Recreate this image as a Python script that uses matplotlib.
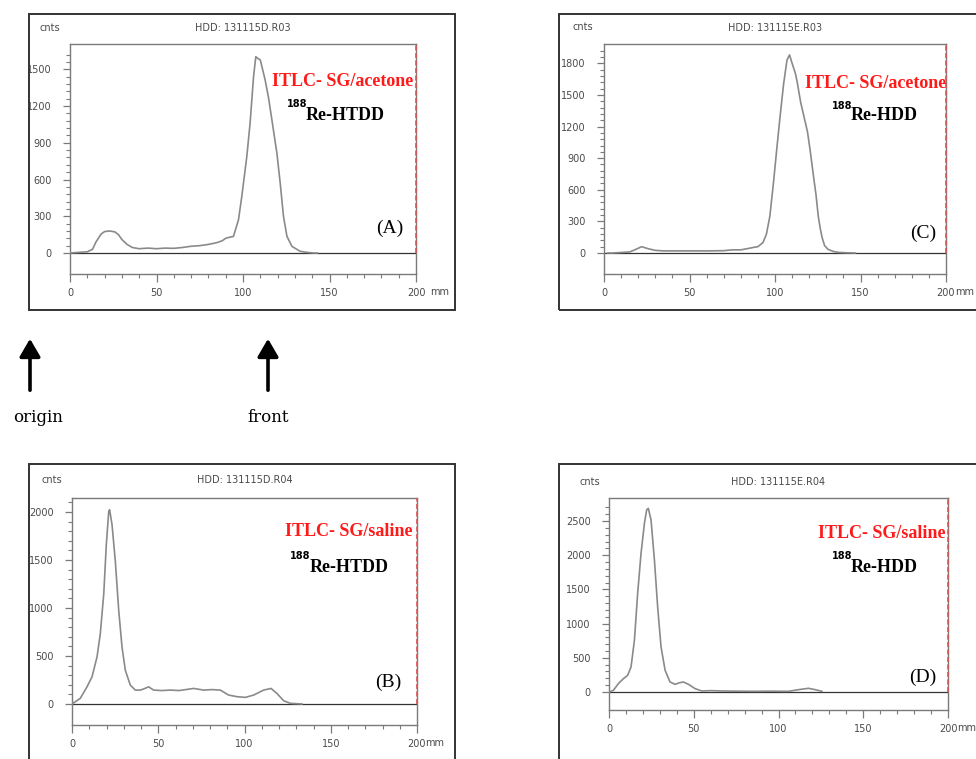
import matplotlib
matplotlib.use("Agg")
import matplotlib.pyplot as plt
from matplotlib.patches import Rectangle, FancyArrowPatch
from matplotlib.ticker import FixedLocator

W, H = 976, 759

# ---------------- data ----------------
A_x = [0, 5, 10, 13, 15, 18, 20, 23, 26, 28, 30, 33, 36, 40, 45, 50, 55, 60, 65, 70, 75, 80, 85, 88, 90, 92,
       94.5, 97.4, 99.3, 102.2, 104.1, 106.1, 107.4, 108.5, 110, 112.8, 114.8, 116.7, 119.6, 121.5, 123.4,
       125.4, 128.3, 133, 137, 140.8, 143]
A_y = [0, 5, 10, 30, 90, 155, 175, 180, 172, 150, 110, 70, 45, 35, 40, 35, 40, 38, 45, 55, 60, 70, 85, 100, 120, 128,
       136, 272, 462, 788, 1060, 1440, 1603, 1590, 1576, 1413, 1264, 1087, 815, 571, 299,
       136, 54, 14, 5, 0, 0]

B_x = [0, 4.8, 8.7, 11.6, 14.5, 16.4, 18.4, 19.9, 21.3, 21.8, 23.2, 25.1, 27.1, 29, 30.9, 33.8, 36.7, 39.6, 42,
       44.4, 47.3, 52, 57, 62, 66.7, 70.5, 76.3, 81, 86, 90.8, 95.7, 100.5, 105.3, 111.1, 115.4, 118.8, 122.7,
       126.6, 133.3]
B_y = [0, 59, 179, 283, 490, 731, 1145, 1662, 2007, 2024, 1869, 1490, 972, 593, 352, 197, 145, 145, 160,
       179, 145, 140, 145, 140, 152, 162, 145, 150, 145, 93, 76, 69, 93, 145, 162, 110, 34,
       7, 0]

C_x = [2, 5, 10, 15, 18, 20, 22, 24, 26, 30, 35, 40, 50, 60, 70, 75, 80, 85, 88, 90, 93, 95, 97, 99, 101, 103,
       105, 107, 108.5, 110, 112, 113, 115, 117, 119, 120.5, 122.5, 124, 125.3, 126.5, 127.5, 129, 131, 134,
       137, 142, 147]
C_y = [0, 0, 5, 10, 30, 45, 60, 50, 40, 25, 20, 20, 20, 20, 22, 30, 30, 45, 55, 60, 100, 180, 350, 650, 980, 1300,
       1600, 1830, 1880, 1800, 1700, 1620, 1430, 1290, 1150, 980, 730, 550, 350, 230, 150, 70, 35, 15,
       6, 2, 0]

D_x = [0, 2.6, 5.5, 8.5, 11, 13, 15, 16.9, 18.9, 20.9, 22.2, 23.2, 24.8, 26.8, 28.7, 30.7, 33.1, 36, 39, 41.5,
       43.9, 46.9, 50.8, 54.7, 60, 66.5, 75, 86.2, 95, 106, 111.8, 117.7, 121.7, 125.6]
D_y = [0, 24, 122, 195, 244, 366, 757, 1440, 2026, 2466, 2661, 2685, 2515, 1929, 1245, 659, 317, 146, 112, 135,
       146, 112, 49, 15, 20, 15, 12, 10, 12, 10, 34, 54, 34, 10]

titles = ["HDD: 131115D.R03", "HDD: 131115E.R03", "HDD: 131115D.R04", "HDD: 131115E.R04"]
solvents = ["ITLC- SG/acetone", "ITLC- SG/acetone", "ITLC- SG/saline", "ITLC- SG/saline"]
compounds = ["Re-HTDD", "Re-HDD", "Re-HTDD", "Re-HDD"]
panel_tags = ["(A)", "(C)", "(B)", "(D)"]
yticks_major = [[0, 300, 600, 900, 1200, 1500],
                [0, 300, 600, 900, 1200, 1500, 1800],
                [0, 500, 1000, 1500, 2000],
                [0, 500, 1000, 1500, 2000, 2500]]
xticks_major = [0, 50, 100, 150, 200]

# ---------------- helpers ----------------
fig = plt.figure(figsize=(W / 100, H / 100), dpi=100)
fig.patch.set_facecolor("white")


def fx(x):
    return x / W


def fy(y):
    return 1 - y / H


def rect(l, t, r, b):
    return [l / W, 1 - b / H, (r - l) / W, (b - t) / H]


NARROW = ["Liberation Sans Narrow", "DejaVu Sans"]
SERIF = ["Liberation Serif", "DejaVu Serif"]
GRAY = "#7a7a7a"
TXT = "#4a4a4a"

# frames (pixel boxes: l, t, r, b)
frames = [(29, 14, 455, 310), (559, 14, 990, 310), (29, 464, 455, 775), (559, 464, 990, 775)]
for (l, t, r, b) in frames:
    fig.add_artist(Rectangle((fx(l), fy(b)), (r - l) / W, (b - t) / H, transform=fig.transFigure,
                             fill=False, edgecolor="#333333", linewidth=1.4))

# axes geometry: (left, top, right, bottom, zero_px, ref_val, ref_px)
geo = [(70, 44, 416, 274, 253, 1500, 69.3),
       (604, 44, 946, 274, 253, 1800, 63.3),
       (72, 498, 417, 725, 704, 2000, 512),
       (609, 498, 948, 710, 692, 2500, 521)]
minor_step = [60, 60, 100, 100]
minor_top = [1620, 1920, 2100, 2700]
datasets = [(A_x, A_y), (C_x, C_y), (B_x, B_y), (D_x, D_y)]

# text positions (pixels)
cnts_pos = [(50, 28), (583, 27), (52, 480), (590, 482)]
title_y = [28, 28, 480, 482]
red_pos = [(272, 82), (805, 83), (285, 532), (818, 533)]
sup_pos = [(287, 104), (832, 106), (290, 556), (832, 556)]
comp_pos = [(306, 115), (851, 115), (310, 568), (851, 567)]
tag_pos = [(390, 228), (923, 233), (388, 682), (923, 677)]
mm_pos = [(440, 292), (965, 292), (435, 743), (967, 728)]

for i in range(4):
    l, t, r, b, z, rv, rp = geo[i]
    scale = (z - rp) / rv
    ymin = -(b - z) / scale
    ymax = (z - t) / scale
    ax = fig.add_axes(rect(l, t, r, b))
    ax.set_xlim(0, 200)
    ax.set_ylim(ymin, ymax)
    xs, ys = datasets[i]
    ax.plot(xs, ys, color="#8a8a8a", linewidth=1.2, zorder=3)
    ax.plot([0, 200], [0, 0], color="#333333", linewidth=0.9, zorder=2)
    ax.plot([200, 200], [0, ymax], color="#e05555", linewidth=1.2, linestyle=(0, (3, 1.5)),
            zorder=4, clip_on=False)
    for s in ax.spines.values():
        s.set_color(GRAY)
        s.set_linewidth(1.0)
    ax.set_xticks(xticks_major)
    ax.xaxis.set_minor_locator(FixedLocator(list(range(0, 201, 10))))
    ax.set_yticks(yticks_major[i])
    ax.yaxis.set_minor_locator(FixedLocator(list(range(0, minor_top[i] + 1, minor_step[i]))))
    ax.tick_params(axis="both", which="major", direction="out", length=5, width=0.9, color=GRAY,
                   labelsize=7, labelcolor=TXT)
    ax.tick_params(axis="both", which="minor", direction="out", length=3, width=0.8, color=GRAY)
    ax.tick_params(axis="x", which="major", length=6, pad=4)
    ax.tick_params(axis="y", which="major", pad=8)
    for lab in ax.get_xticklabels() + ax.get_yticklabels():
        lab.set_family(NARROW)

    cx, cy = cnts_pos[i]
    fig.text(fx(cx), fy(cy), "cnts", ha="center", va="center", fontsize=7, color=TXT, family=NARROW)
    fig.text(fx((l + r) / 2), fy(title_y[i]), titles[i], ha="center", va="center", fontsize=7,
             color=TXT, family=NARROW)
    mx, my = mm_pos[i]
    fig.text(fx(mx), fy(my), "mm", ha="center", va="center", fontsize=7, color=TXT, family=NARROW)

    rx, ry = red_pos[i]
    fig.text(fx(rx), fy(ry), solvents[i], ha="left", va="center", fontsize=13, color="#ff1a1a",
             fontweight="bold", family=SERIF)
    sx, sy = sup_pos[i]
    fig.text(fx(sx), fy(sy), "188", ha="left", va="center", fontsize=7, color="black",
             fontweight="bold", family=NARROW)
    kx, ky = comp_pos[i]
    fig.text(fx(kx), fy(ky), compounds[i], ha="left", va="center", fontsize=13, color="black",
             fontweight="bold", family=SERIF)
    tx, ty = tag_pos[i]
    fig.text(fx(tx), fy(ty), panel_tags[i], ha="center", va="center", fontsize=14, color="black",
             family=SERIF)

# arrows with captions
arrow_labels = ["origin", "front"]
arrow_x = [30, 268]
for lab, axp in zip(arrow_labels, arrow_x):
    fig.add_artist(FancyArrowPatch((fx(axp), fy(393)), (fx(axp), fy(336)),
                                   transform=fig.transFigure, arrowstyle="-|>,head_length=6,head_width=3.5",
                                   mutation_scale=1.8, color="black", linewidth=2.6))
    fig.text(fx(axp + (8 if lab == "origin" else 0)), fy(417), lab, ha="center", va="center",
             fontsize=12, family=["DejaVu Serif"], color="black")

fig.savefig("out.png", dpi=100, facecolor="white")
